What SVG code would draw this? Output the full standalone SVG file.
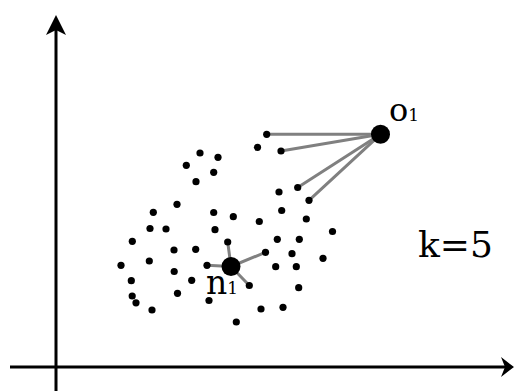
<svg xmlns="http://www.w3.org/2000/svg" width="514" height="391" viewBox="0 0 514 391">
<style>
.axis{stroke:#000;stroke-width:3;fill:none}
.head{fill:#000;stroke:none}
.link{stroke:#808080;stroke-width:3;stroke-linecap:round}
.dot{fill:#000}
.big{fill:#000}
.lbl{font-family:"DejaVu Serif",serif;fill:#000}
</style>
<rect width="514" height="391" fill="#fff"/>
<g id="axes">
<line class="axis" x1="56" y1="391" x2="56" y2="28"/>
<path class="head" d="M56,15 L66,35 L56,30 L46,35 Z"/>
<line class="axis" x1="10" y1="367" x2="505" y2="367"/>
<path class="head" d="M514,367 L501,377 L505,367 L501,357 Z"/>
</g>
<g id="connectors">
<line class="link" x1="380.5" y1="134.3" x2="266.7" y2="134.3"/>
<line class="link" x1="380.5" y1="134.3" x2="281" y2="151"/>
<line class="link" x1="380.5" y1="134.3" x2="297.7" y2="187.5"/>
<line class="link" x1="380.5" y1="134.3" x2="309" y2="200.3"/>
<line class="link" x1="231" y1="266.5" x2="207" y2="265.3"/>
<line class="link" x1="231" y1="266.5" x2="227.7" y2="242"/>
<line class="link" x1="231" y1="266.5" x2="265.5" y2="252.3"/>
<line class="link" x1="231" y1="266.5" x2="249.3" y2="285.5"/>
</g>
<g id="points">
<circle class="dot" r="3.6" cx="266.7" cy="134.3"/>
<circle class="dot" r="3.6" cx="257.5" cy="147.3"/>
<circle class="dot" r="3.6" cx="281" cy="151"/>
<circle class="dot" r="3.6" cx="200" cy="153"/>
<circle class="dot" r="3.6" cx="218" cy="157.3"/>
<circle class="dot" r="3.6" cx="186.3" cy="165.3"/>
<circle class="dot" r="3.6" cx="213.7" cy="172.3"/>
<circle class="dot" r="3.6" cx="196" cy="181.7"/>
<circle class="dot" r="3.6" cx="297.7" cy="187.5"/>
<circle class="dot" r="3.6" cx="279" cy="192"/>
<circle class="dot" r="3.6" cx="309" cy="200.3"/>
<circle class="dot" r="3.6" cx="177" cy="204.3"/>
<circle class="dot" r="3.6" cx="153.3" cy="212.3"/>
<circle class="dot" r="3.6" cx="213.7" cy="212.5"/>
<circle class="dot" r="3.6" cx="233.3" cy="216.7"/>
<circle class="dot" r="3.6" cx="281.7" cy="210.5"/>
<circle class="dot" r="3.6" cx="259.3" cy="221.5"/>
<circle class="dot" r="3.6" cx="306.3" cy="219"/>
<circle class="dot" r="3.6" cx="332.5" cy="231.5"/>
<circle class="dot" r="3.6" cx="150" cy="228.5"/>
<circle class="dot" r="3.6" cx="166" cy="229"/>
<circle class="dot" r="3.6" cx="215" cy="229.7"/>
<circle class="dot" r="3.6" cx="132.3" cy="241.3"/>
<circle class="dot" r="3.6" cx="227.7" cy="242"/>
<circle class="dot" r="3.6" cx="277.3" cy="239.3"/>
<circle class="dot" r="3.6" cx="299.3" cy="239.3"/>
<circle class="dot" r="3.6" cx="174" cy="250"/>
<circle class="dot" r="3.6" cx="195.7" cy="249.3"/>
<circle class="dot" r="3.6" cx="265.5" cy="252.3"/>
<circle class="dot" r="3.6" cx="292" cy="253.7"/>
<circle class="dot" r="3.6" cx="323" cy="258.3"/>
<circle class="dot" r="3.6" cx="121" cy="265.3"/>
<circle class="dot" r="3.6" cx="149.3" cy="261"/>
<circle class="dot" r="3.6" cx="207" cy="265.3"/>
<circle class="dot" r="3.6" cx="275.7" cy="266.7"/>
<circle class="dot" r="3.6" cx="296.3" cy="266.7"/>
<circle class="dot" r="3.6" cx="174.2" cy="271.5"/>
<circle class="dot" r="3.6" cx="131.3" cy="280.7"/>
<circle class="dot" r="3.6" cx="191.7" cy="280.3"/>
<circle class="dot" r="3.6" cx="249.3" cy="285.5"/>
<circle class="dot" r="3.6" cx="298.7" cy="287.7"/>
<circle class="dot" r="3.6" cx="132.2" cy="296"/>
<circle class="dot" r="3.6" cx="136" cy="302.8"/>
<circle class="dot" r="3.6" cx="177.5" cy="293.3"/>
<circle class="dot" r="3.6" cx="152" cy="310"/>
<circle class="dot" r="3.6" cx="209" cy="300.5"/>
<circle class="dot" r="3.6" cx="261" cy="309"/>
<circle class="dot" r="3.6" cx="283" cy="307.3"/>
<circle class="dot" r="3.6" cx="236.3" cy="322"/>
</g>
<g id="o1">
<circle class="big" cx="380.5" cy="134.3" r="9.5"/>
<text class="lbl" x="389" y="121" font-size="32">o<tspan font-size="17">1</tspan></text>
</g>
<g id="n1">
<circle class="big" cx="231" cy="266.5" r="9.5"/>
<text class="lbl" x="206" y="294" font-size="33">n<tspan font-size="17">1</tspan></text>
</g>
<g id="k">
<text class="lbl" x="418" y="256.7" font-size="36">k=5</text>
</g>
</svg>
